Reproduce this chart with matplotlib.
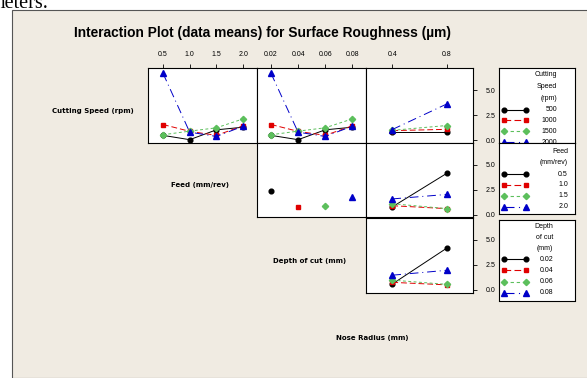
import matplotlib
matplotlib.use('Agg')
import matplotlib.pyplot as plt
from matplotlib.lines import Line2D
from matplotlib.patches import Rectangle

# factor levels
speed = [500, 1000, 1500, 2000]
feed = [0.5, 1.0, 1.5, 2.0]
depth = [0.02, 0.04, 0.06, 0.08]
nose = [0.4, 0.8]

# means of surface roughness (um), traces = cutting speed
speed_by_feed = {
    500: [0.50, 0.07, 1.05, 1.31],
    1000: [1.58, 0.90, 0.50, 1.45],
    1500: [0.56, 0.92, 1.25, 2.14],
    2000: [6.68, 0.82, 0.39, 1.41],
}
speed_by_depth = {
    500: [0.50, 0.07, 1.05, 1.31],
    1000: [1.58, 0.90, 0.50, 1.45],
    1500: [0.56, 0.92, 1.25, 2.14],
    2000: [6.68, 0.82, 0.39, 1.41],
}
speed_by_nose = {
    500: [0.79, 0.79],
    1000: [0.97, 1.10],
    1500: [1.00, 1.48],
    2000: [1.08, 3.62],
}
# traces = feed (only one depth level per feed level)
feed_by_depth = {
    0.5: [(0.02, 2.40)],
    1.0: [(0.04, 0.77)],
    1.5: [(0.06, 0.92)],
    2.0: [(0.08, 1.76)],
}
feed_by_nose = {
    0.5: [0.80, 4.16],
    1.0: [0.92, 0.63],
    1.5: [1.12, 0.63],
    2.0: [1.60, 2.05],
}
# traces = depth of cut
depth_by_nose = {
    0.02: [0.58, 4.15],
    0.04: [0.75, 0.50],
    0.06: [0.97, 0.55],
    0.08: [1.46, 1.95],
}

styles = [
    dict(color='black', ls='-', marker='o', ms=3.4, mfc='black'),
    dict(color='#e00000', ls=(0, (6, 3)), marker='s', ms=3.4),
    dict(color='#5cbf5c', ls=(0, (3, 2.5)), marker='D', ms=3.2),
    dict(color='#0000c8', ls=(0, (9, 4, 1, 4)), marker='^', ms=4.2),
]

W, H = 587, 378
bg = '#f0ebe2'
fig = plt.figure(figsize=(W / 100, H / 100), dpi=100)
fig.patch.set_facecolor('white')
fig.patches.append(Rectangle((12 / W, 0), 1, 1 - 10 / H, transform=fig.transFigure,
                             facecolor=bg, edgecolor='#555555', lw=0.8, zorder=-5))
fig.text(-10 / W, 1 - 8 / H, 'meters.', family='Liberation Serif', fontsize=14.5,
         va='baseline', ha='left')


def box(x0, y0, x1, y1):
    return fig.add_axes([x0 / W, 1 - y1 / H, (x1 - x0) / W, (y1 - y0) / H])


tick_font = dict(family='Liberation Sans', size=5)
lab_font = dict(family='DejaVu Sans', weight='bold', size=5)


def panel(x0, y0, x1, y1, xs, xlim, top=False, right=False):
    ax = box(x0, y0, x1, y1)
    ax.set_facecolor('white')
    ax.set_xlim(*xlim)
    ax.set_ylim(-0.26, 7.2)
    for s in ax.spines.values():
        s.set_linewidth(0.8)
    ax.tick_params(length=3, width=0.6, direction='out', pad=4, labelsize=5)
    ax.xaxis.set_ticks_position('top')
    ax.yaxis.set_ticks_position('right')
    if top:
        ax.set_xticks(xs)
        if xs[0] >= 0.1:
            ax.set_xticklabels(['%.1f' % v for v in xs], **tick_font)
        else:
            ax.set_xticklabels(['%.2f' % v for v in xs], **tick_font)
    else:
        ax.set_xticks([])
    if right:
        ax.set_yticks([0, 2.5, 5.0])
        ax.set_yticklabels(['0.0', '2.5', '5.0'], **tick_font)
        ax.tick_params(axis='y', pad=6)
    else:
        ax.set_yticks([])
    return ax


def draw(ax, xs, series, levels):
    for lev, st in zip(levels, styles):
        ax.plot(xs, series[lev], lw=0.7, mec=st['color'], clip_on=False, **st)


flim = (0.22, 2.26)
dlim = (0.0097, 0.0901)
nlim = (0.207, 0.993)

a11 = panel(148, 68, 257, 143, feed, flim, top=True)
draw(a11, feed, speed_by_feed, speed)
a12 = panel(257, 68, 366, 143, depth, dlim, top=True)
draw(a12, depth, speed_by_depth, speed)
a13 = panel(366, 68, 473, 143, nose, nlim, top=True, right=True)
draw(a13, nose, speed_by_nose, speed)

a22 = panel(257, 143, 366, 217.5, depth, dlim)
for lev, st in zip(feed, styles):
    pts = feed_by_depth[lev]
    a22.plot([p[0] for p in pts], [p[1] for p in pts], lw=0, mec=st['color'],
             **{k: v for k, v in st.items() if k != 'ls'})
a23 = panel(366, 143, 473, 217.5, nose, nlim, right=True)
draw(a23, nose, feed_by_nose, feed)

a33 = panel(366, 217.5, 473, 292.5, nose, nlim, right=True)
draw(a33, nose, depth_by_nose, depth)

fig.text(262.5 / W, 1 - 33 / H, 'Interaction Plot (data means) for Surface Roughness (\u00b5m)',
         ha='center', va='center', family='Liberation Sans', weight='bold', fontsize=9.9)
fig.text(93 / W, 1 - 111.5 / H, 'Cutting Speed (rpm)', ha='center', va='center', **lab_font)
fig.text(200 / W, 1 - 185 / H, 'Feed (mm/rev)', ha='center', va='center', **lab_font)
fig.text(310 / W, 1 - 261.5 / H, 'Depth of cut (mm)', ha='center', va='center', **lab_font)
fig.text(372.5 / W, 1 - 338 / H, 'Nose Radius (mm)', ha='center', va='center', **lab_font)


def legend(y0, y1, title_lines, labels, title_y, item_y, right_x):
    ax = box(499, y0, 575, y1)
    ax.set_facecolor('white')
    ax.set_xlim(499, 575)
    ax.set_ylim(y1, y0)
    ax.set_xticks([])
    ax.set_yticks([])
    for s in ax.spines.values():
        s.set_linewidth(0.8)
    for t, y in zip(title_lines, title_y):
        ax.text(right_x, y, t, ha='right', va='center', clip_on=True, **tick_font)
    for lab, y, st in zip(labels, item_y, styles):
        ax.add_line(Line2D([504, 526], [y, y], lw=0.8, mec=st['color'], **st))
        ax.text(right_x, y, lab, ha='right', va='center', clip_on=True, **tick_font)
    return ax


legend(68.3, 143, ['Cutting', 'Speed', '(rpm)'], ['500', '1000', '1500', '2000'],
       [75, 86.5, 98], [109.5, 120, 131, 142], 557)
legend(143, 214, ['Feed', '(mm/rev)'], ['0.5', '1.0', '1.5', '2.0'],
       [151, 162.5], [174, 184.5, 195.5, 206.5], 568)
legend(220, 300.5, ['Depth', 'of cut', '(mm)'], ['0.02', '0.04', '0.06', '0.08'],
       [227, 238, 249], [259.5, 270.5, 282, 293], 553)

fig.savefig('out.png', dpi=100, facecolor=fig.get_facecolor())
